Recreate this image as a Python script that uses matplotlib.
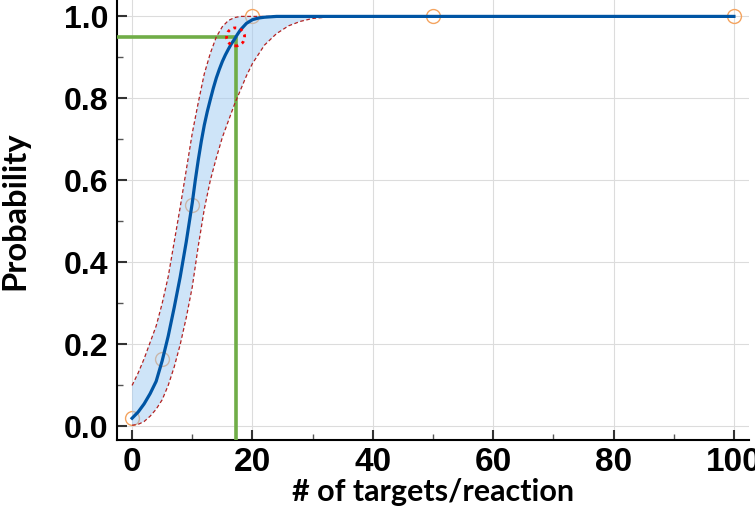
import matplotlib
matplotlib.use('Agg')
import matplotlib.pyplot as plt
from matplotlib.patches import Ellipse
from matplotlib.ticker import MultipleLocator

# observed hit rates
obs_x = [0, 5, 10, 20, 50, 100]
obs_y = [0.02, 0.165, 0.54, 1.0, 1.0, 1.0]

# fitted curve
fit_x = [0, 1, 2, 3, 4, 5, 6, 7, 8, 9, 10, 10.5, 11, 11.5, 12, 12.5, 13, 13.5,
         14, 14.5, 15, 15.5, 16, 16.5, 17, 17.5, 18, 19, 20, 21, 22, 24, 26,
         30, 100]
fit_y = [0.020, 0.035, 0.055, 0.080, 0.110, 0.160, 0.220, 0.290, 0.365, 0.450,
         0.545, 0.600, 0.650, 0.695, 0.735, 0.768, 0.797, 0.825, 0.850, 0.871,
         0.890, 0.906, 0.920, 0.933, 0.944, 0.956, 0.967, 0.983, 0.992, 0.996,
         0.998, 1.0, 1.0, 1.0, 1.0]

# 95% confidence band
up_x = [0, 1, 2, 3, 4, 5, 6, 7, 8, 9, 10, 11, 12, 13, 14, 15, 16, 17, 18, 100]
up_y = [0.100, 0.130, 0.165, 0.205, 0.245, 0.300, 0.365, 0.450, 0.535, 0.625,
        0.715, 0.790, 0.860, 0.910, 0.950, 0.975, 0.990, 0.997, 1.0, 1.0]
lo_x = [0, 1, 2, 3, 4, 5, 6, 7, 8, 9, 10, 11, 12, 13, 14, 15, 16, 17, 18, 19,
        20, 22, 24, 26, 28, 30, 33, 35, 100]
lo_y = [0.003, 0.005, 0.012, 0.025, 0.042, 0.065, 0.100, 0.145, 0.200, 0.265,
        0.340, 0.440, 0.530, 0.600, 0.655, 0.705, 0.745, 0.785, 0.820, 0.855,
        0.885, 0.930, 0.958, 0.977, 0.988, 0.995, 0.999, 1.0, 1.0]

# 95% detection point
lod_x = 17.2
lod_y = 0.95

XLIM = (-2.5, 102.5)
YLIM = (-0.033, 1.04)

fig = plt.figure(figsize=(7.55, 5.11), dpi=100)
ax = fig.add_axes([0.155, 0.139, 0.837, 0.861])
ax.set_xlim(*XLIM)
ax.set_ylim(*YLIM)

ax.grid(True, color='#dcdcdc', lw=0.8, zorder=0)
ax.set_axisbelow(True)

ax.plot(obs_x, obs_y, 'o', ms=10, mfc='none', mec='#F4A460', mew=1.0, zorder=2.5)

band_x = up_x + lo_x[::-1]
band_y = up_y + lo_y[::-1]
ax.fill(band_x, band_y, color='#9fcaf3', alpha=0.5, lw=0, zorder=3)
ax.plot(up_x, up_y, color='#B22222', lw=0.9, ls=(0, (3, 2)), zorder=4)
ax.plot(lo_x, lo_y, color='#B22222', lw=0.9, ls=(0, (3, 2)), zorder=4)

ax.plot([XLIM[0], lod_x], [lod_y, lod_y], color='#70AD47', lw=2.6, zorder=3.5,
        solid_capstyle='butt')
ax.plot([lod_x, lod_x], [YLIM[0], lod_y], color='#70AD47', lw=2.6, zorder=3.5,
        solid_capstyle='butt')

ax.plot(fit_x, fit_y, color='#0055A4', lw=2.3, zorder=5)

ax.add_patch(Ellipse((lod_x, lod_y), 3.0, 0.044, fill=False, ec='red',
                     lw=2.0, ls=(0, (1, 1.5)), zorder=6))

for s in ('top', 'right'):
    ax.spines[s].set_visible(False)
for s in ('left', 'bottom'):
    ax.spines[s].set_linewidth(1.5)

ax.xaxis.set_major_locator(MultipleLocator(20))
ax.xaxis.set_minor_locator(MultipleLocator(10))
ax.yaxis.set_major_locator(MultipleLocator(0.2))
ax.yaxis.set_minor_locator(MultipleLocator(0.1))
ax.tick_params(which='major', direction='in', length=7, width=1.5, color='#333333')
ax.tick_params(which='minor', direction='in', length=4, width=1.0, color='#555555')
ax.tick_params(axis='x', pad=5)
ax.tick_params(axis='y', pad=6)
ax.set_yticklabels(['%.1f' % v for v in ax.get_yticks()])

for lab in ax.get_yticklabels():
    lab.set_fontfamily('Liberation Sans')
    lab.set_fontweight('bold')
    lab.set_fontsize(23)
for lab in ax.get_xticklabels():
    lab.set_fontfamily('Liberation Sans')
    lab.set_fontweight('bold')
    lab.set_fontsize(24)

ax.set_xlabel('# of targets/reaction', family='Lato', fontweight='bold',
              fontsize=22, labelpad=0)
ax.set_ylabel('Probability', family='Lato', fontweight='bold', fontsize=23.5)
ax.yaxis.set_label_coords(-0.138, 0.52)

fig.savefig('out.png', dpi=100, facecolor='white')
